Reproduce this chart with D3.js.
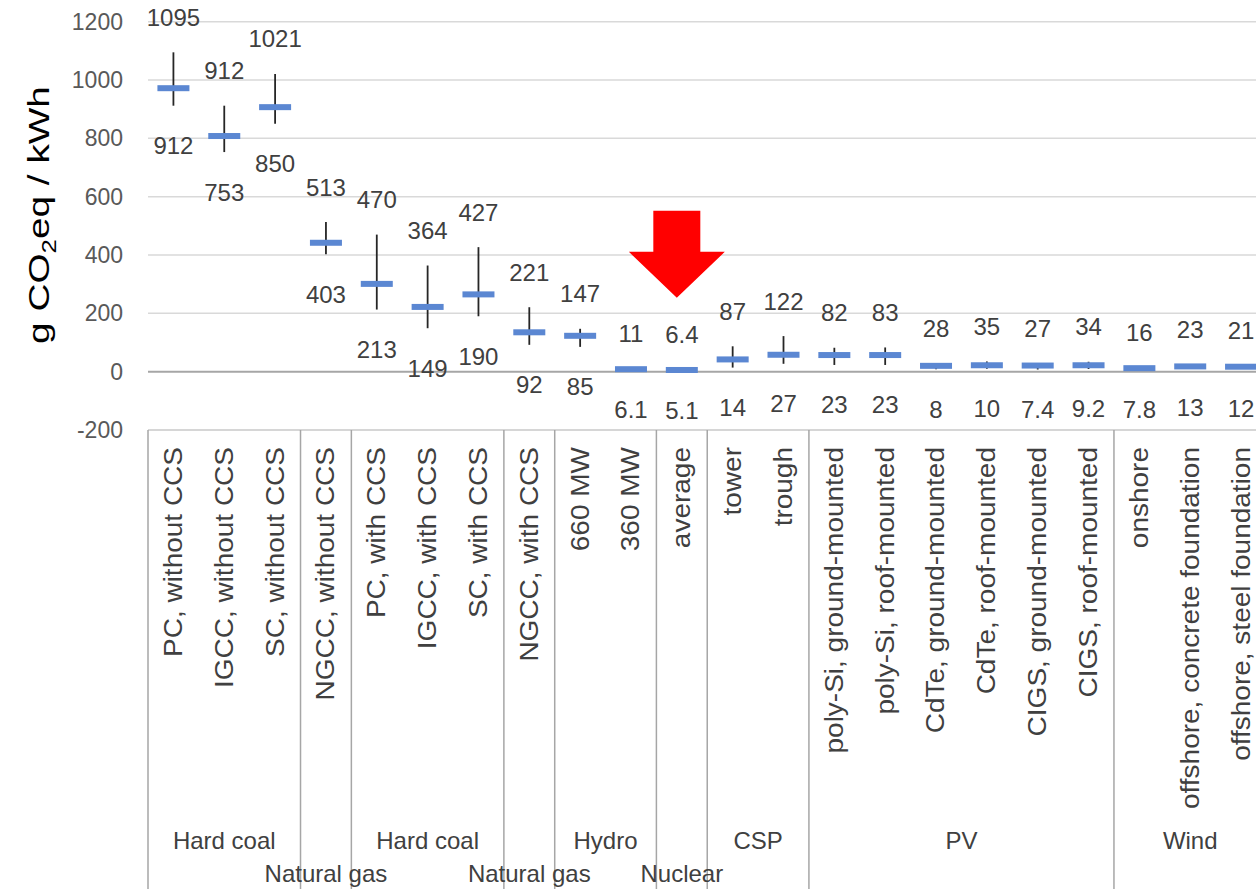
<!DOCTYPE html>
<html>
<head>
<meta charset="utf-8">
<script src="https://cdn.jsdelivr.net/npm/d3@7"></script>
<style>
  body { margin: 0; background: #fff; }
  svg { display: block; font-family: "Liberation Sans", Arial, sans-serif; }
</style>
</head>
<body>
<div id="chart"></div>
<script>
const width = 1256;
const height = 889;

// categories (left to right)
const categories = [
    "PC, without CCS", "IGCC, without CCS", "SC, without CCS",
    "NGCC, without CCS",
    "PC, with CCS", "IGCC, with CCS", "SC, with CCS",
    "NGCC, with CCS",
    "660 MW", "360 MW",
    "average",
    "tower", "trough",
    "poly-Si, ground-mounted", "poly-Si, roof-mounted", "CdTe, ground-mounted",
    "CdTe, roof-mounted", "CIGS, ground-mounted", "CIGS, roof-mounted",
    "onshore", "offshore, concrete foundation", "offshore, steel foundation"
];

const maxValues = [1095, 912, 1021, 513, 470, 364, 427, 221, 147, 11, 6.4, 87, 122, 82, 83, 28, 35, 27, 34, 16, 23, 21];
const minValues = [912, 753, 850, 403, 213, 149, 190, 92, 85, 6.1, 5.1, 14, 27, 23, 23, 8, 10, 7.4, 9.2, 7.8, 13, 12];
const medianValues = [972, 808, 907, 442, 301, 222, 265, 135, 123, 8.5, 5.8, 42, 58, 57, 57, 20, 22, 21, 22, 12, 18, 17];

// groups: name, first and last index (exclusive), row of label
const groupNames = ["Hard coal", "Natural gas", "Hard coal", "Natural gas", "Hydro", "Nuclear", "CSP", "PV", "Wind"];
const groupStart = [0, 3, 4, 7, 8, 10, 11, 13, 19];
const groupEnd = [3, 4, 7, 8, 10, 11, 13, 19, 22];
const groupRow = [0, 1, 0, 1, 0, 1, 0, 0, 0];

const yTicks = [-200, 0, 200, 400, 600, 800, 1000, 1200];

const data = categories.map((c, i) => ({
    cat: c, min: minValues[i], med: medianValues[i], max: maxValues[i]
}));

const plotLeft = 148;
const step = 50.84;

const xScale = d3.scaleBand()
    .domain(categories)
    .range([plotLeft, plotLeft + step * categories.length])
    .padding(0);

const yScale = d3.scaleLinear()
    .domain([-200, 1200])
    .range([430, 21.7]);

const cx = d => xScale(d) + xScale.bandwidth() / 2;

const svg = d3.select("#chart").append("svg")
    .attr("width", width)
    .attr("height", height);

// gridlines
svg.append("g")
    .selectAll("line")
    .data(yTicks)
    .join("line")
    .attr("x1", plotLeft)
    .attr("x2", width)
    .attr("y1", d => yScale(d))
    .attr("y2", d => yScale(d))
    .attr("stroke", d => d === 0 ? "#a6a6a6" : (d === -200 ? "#c8c8c8" : "#d9d9d9"))
    .attr("stroke-width", d => d === 0 ? 2 : 1.5);

// y axis labels
const yAxis = d3.axisLeft(yScale).tickValues(yTicks).tickSize(0).tickPadding(25)
    .tickFormat(d => String(d));
const gy = svg.append("g")
    .attr("transform", `translate(${plotLeft},0)`)
    .call(yAxis);
gy.select(".domain").remove();
gy.selectAll("text")
    .attr("font-family", "Liberation Sans, Arial, sans-serif")
    .attr("font-size", 23)
    .attr("fill", "#595959");

// y axis title
const title = svg.append("text")
    .attr("text-anchor", "middle")
    .attr("font-size", 30)
    .attr("fill", "#000");
title.append("tspan").text("g CO");
title.append("tspan").attr("font-size", 20).attr("dy", 7).text("2");
title.append("tspan").attr("dy", -7).text("eq / kWh");
const titleLen = title.node().getComputedTextLength();
title.attr("transform", `translate(49,215) rotate(-90) scale(${258 / titleLen},1)`);

// group separators in category area
const sepIdx = [0].concat(groupEnd);
svg.append("g")
    .selectAll("line")
    .data(sepIdx)
    .join("line")
    .attr("x1", i => plotLeft + i * step)
    .attr("x2", i => plotLeft + i * step)
    .attr("y1", yScale(-200))
    .attr("y2", height)
    .attr("stroke", "#a6a6a6")
    .attr("stroke-width", 1.5);

// category labels
svg.append("g")
    .selectAll("text")
    .data(categories)
    .join("text")
    .attr("transform", d => `translate(${cx(d)},447) rotate(-90) scale(1.12,1)`)
    .attr("text-anchor", "end")
    .attr("dominant-baseline", "central")
    .attr("font-size", 25)
    .attr("fill", "#404040")
    .text(d => d);

// group labels
svg.append("g")
    .selectAll("text")
    .data(groupNames)
    .join("text")
    .attr("x", (d, i) => (xScale(categories[groupStart[i]]) + xScale(categories[groupEnd[i] - 1]) + xScale.bandwidth()) / 2)
    .attr("y", (d, i) => groupRow[i] === 0 ? 840 : 873)
    .attr("text-anchor", "middle")
    .attr("dominant-baseline", "central")
    .attr("font-size", 24)
    .attr("fill", "#404040")
    .text(d => d);

// whiskers
svg.append("g")
    .selectAll("line")
    .data(data)
    .join("line")
    .attr("x1", d => cx(d.cat))
    .attr("x2", d => cx(d.cat))
    .attr("y1", d => yScale(d.min))
    .attr("y2", d => yScale(d.max))
    .attr("stroke", "#262626")
    .attr("stroke-width", 1.8);

// median dashes
svg.append("g")
    .selectAll("rect")
    .data(data)
    .join("rect")
    .attr("x", d => cx(d.cat) - 16)
    .attr("y", d => yScale(d.med) - 3)
    .attr("width", 32)
    .attr("height", 6)
    .attr("fill", "#5b87d2");

// max labels
svg.append("g")
    .selectAll("text")
    .data(data)
    .join("text")
    .attr("x", d => cx(d.cat))
    .attr("y", d => yScale(d.max) - 35)
    .attr("text-anchor", "middle")
    .attr("dominant-baseline", "central")
    .attr("font-size", 24)
    .attr("fill", "#404040")
    .text(d => d.max);

// min labels
svg.append("g")
    .selectAll("text")
    .data(data)
    .join("text")
    .attr("x", d => cx(d.cat))
    .attr("y", d => yScale(d.min) + 40)
    .attr("text-anchor", "middle")
    .attr("dominant-baseline", "central")
    .attr("font-size", 24)
    .attr("fill", "#404040")
    .text(d => d.min);

// red arrow pointing at nuclear average
const ax = cx("average") - 5;
const tipY = yScale(6.4) - 72;
svg.append("path")
    .attr("d", `M${ax - 23.5},${tipY - 87} L${ax + 23.5},${tipY - 87} L${ax + 23.5},${tipY - 46}
        L${ax + 48},${tipY - 46} L${ax},${tipY} L${ax - 48},${tipY - 46} L${ax - 23.5},${tipY - 46} Z`)
    .attr("fill", "#ff0000");
</script>
</body>
</html>
